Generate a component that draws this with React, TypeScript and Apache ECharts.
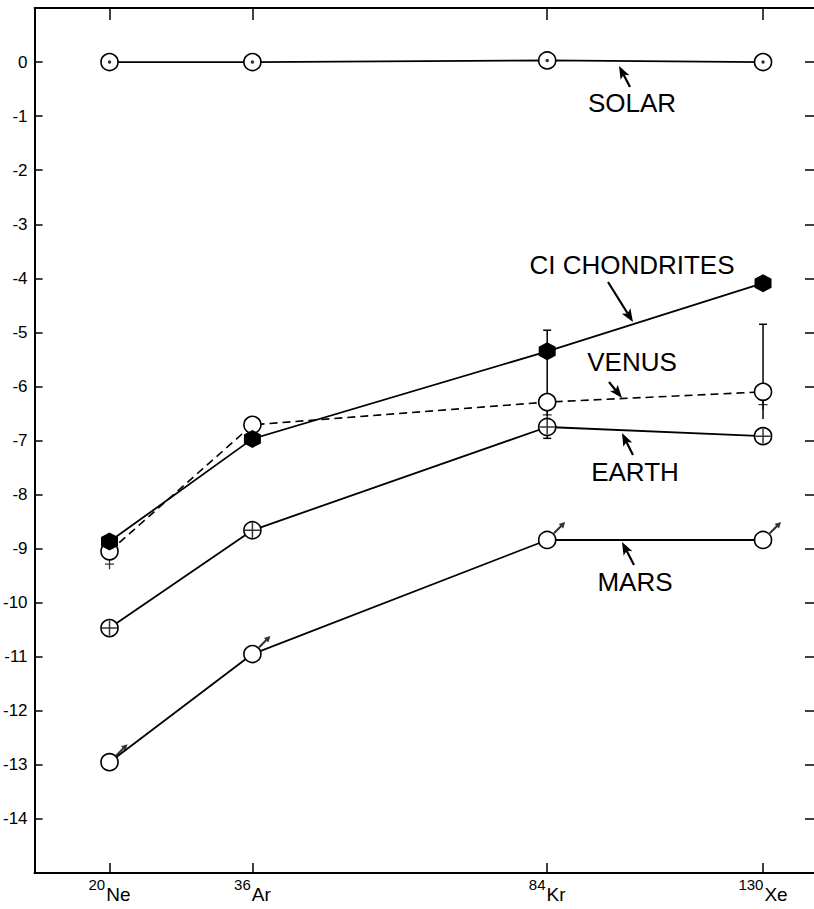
import React, { useEffect, useRef } from "react";
import * as echarts from "echarts";

// ---- data ----
const massNumbers = ["20", "36", "84", "130"];
const elements = ["Ne", "Ar", "Kr", "Xe"];
// horizontal placement of each isotope on the (unlabelled) x scale
const isotopePos = [75, 218, 513, 729];
const yTicks = [0, -1, -2, -3, -4, -5, -6, -7, -8, -9, -10, -11, -12, -13, -14];

const solar = [0, 0, 0.03, 0];
const ciChondrites = [-8.87, -6.97, -5.35, -4.09];
const venus = [-9.05, -6.71, -6.29, -6.1];
const earth = [-10.47, -8.66, -6.75, -6.92];
const mars = [-12.95, -10.95, -8.84, -8.84];

// error bars (end values), null = none
const venusUpper = [null, null, -4.96, -4.85];
const venusLower = [null, null, -6.55, -6.6];
const earthLower = [null, null, -6.96, null];

const labelTexts = ["SOLAR", "CI CHONDRITES", "VENUS", "EARTH", "MARS"];

const FONT = "'Liberation Sans', Arial, Helvetica, sans-serif";

const pts = (vals: number[]) => isotopePos.map((x, i) => [x, vals[i]]);

const CROSS = "path://M7.2,0h1.6v16h-1.6z M0,7.2h16v1.6h-16z";
const VCROSS = "path://M4.3,0h1.4v11h-1.4z M0,4.5h10v1.4h-10z";
const HEX = "path://M5,0 L10,2.9 L10,8.7 L5,11.6 L0,8.7 L0,2.9 Z";
const ARROW = "path://M0,10.5 L7,3.5 L5.5,2 L12,0 L10,6.5 L8.5,5 L1.5,12 Z";

function errorSeries(ends: (number | null)[], base: number[], cap: boolean, dashed: boolean) {
  const data: number[][] = [];
  ends.forEach((e, i) => {
    if (e !== null) data.push([isotopePos[i], base[i], e]);
  });
  return {
    type: "custom",
    xAxisIndex: 0,
    yAxisIndex: 0,
    z: 1,
    silent: true,
    data,
    renderItem: (params: any, api: any) => {
      const x = api.value(0);
      const p0 = api.coord([x, api.value(1)]);
      const p1 = api.coord([x, api.value(2)]);
      const style = { stroke: "#000", lineWidth: 1.5, lineDash: dashed ? [5, 4] : null };
      const children: any[] = [
        { type: "line", shape: { x1: p0[0], y1: p0[1], x2: p1[0], y2: p1[1] }, style },
      ];
      if (cap) {
        children.push({
          type: "line",
          shape: { x1: p1[0] - 4, y1: p1[1], x2: p1[0] + 4, y2: p1[1] },
          style: { stroke: "#000", lineWidth: 1.5 },
        });
      }
      return { type: "group", children };
    },
  };
}

function arrow(x1: number, y1: number, x2: number, y2: number) {
  const dx = x2 - x1;
  const dy = y2 - y1;
  const len = Math.sqrt(dx * dx + dy * dy);
  const ux = dx / len;
  const uy = dy / len;
  const hl = 13;
  const hw = 5;
  const bx = x2 - ux * hl;
  const by = y2 - uy * hl;
  return [
    {
      type: "line",
      shape: { x1, y1, x2: bx + ux * 3, y2: by + uy * 3 },
      style: { stroke: "#000", lineWidth: 2.2 },
      z: 10,
    },
    {
      type: "polygon",
      shape: {
        points: [
          [x2, y2],
          [bx - uy * hw, by + ux * hw],
          [bx + ux * 3, by + uy * 3],
          [bx + uy * hw, by - ux * hw],
        ],
      },
      style: { fill: "#000" },
      z: 10,
    },
  ];
}

export default function App() {
  const ref = useRef<HTMLDivElement>(null);

  useEffect(() => {
    if (!ref.current) return;
    const chart = echarts.init(ref.current, null, { renderer: "svg" });

    const blackLine = { color: "#000", width: 2 };
    const openItem = { color: "#fff", borderColor: "#000", borderWidth: 1.6 };

    const labelPos = [
      [632, 103],
      [632, 265],
      [632, 362],
      [635, 472],
      [635, 582],
    ];

    const option: any = {
      animation: false,
      backgroundColor: "#fff",
      grid: { left: 34, right: 0, top: 8, bottom: 36 },
      xAxis: [
        {
          type: "value",
          position: "bottom",
          min: 0,
          max: 780,
          splitLine: { show: false },
          axisLine: { show: true, onZero: false, lineStyle: blackLine },
          axisTick: {
            show: true,
            inside: true,
            length: 10,
            customValues: isotopePos,
            lineStyle: { color: "#000", width: 1.5 },
          },
          axisLabel: {
            show: true,
            customValues: isotopePos,
            margin: 4,
            formatter: (v: number) => {
              const i = isotopePos.indexOf(v);
              if (i < 0) return "";
              return `{s|${massNumbers[i]}}{e|${elements[i]}}`;
            },
            rich: {
              s: { fontSize: 15, fontFamily: FONT, color: "#000", padding: [0, 1, 12, 0] },
              e: { fontSize: 19, fontFamily: FONT, color: "#000", padding: [8, 0, 0, 0] },
            },
          },
        },
        {
          type: "value",
          position: "top",
          min: 0,
          max: 780,
          splitLine: { show: false },
          axisLine: { show: true, onZero: false, lineStyle: blackLine },
          axisTick: {
            show: true,
            inside: true,
            length: 12,
            customValues: isotopePos,
            lineStyle: { color: "#000", width: 1.5 },
          },
          axisLabel: { show: false },
        },
      ],
      yAxis: [
        {
          type: "value",
          position: "left",
          min: -15,
          max: 1,
          interval: 1,
          splitLine: { show: false },
          axisLine: { show: true, onZero: false, lineStyle: blackLine },
          axisTick: {
            show: true,
            inside: true,
            length: 8,
            customValues: yTicks,
            lineStyle: { color: "#000", width: 1.5 },
          },
          axisLabel: {
            customValues: yTicks,
            formatter: (v: number) => String(v),
            fontSize: 17,
            fontFamily: FONT,
            color: "#000",
            margin: 7,
          },
        },
        {
          type: "value",
          position: "right",
          min: -15,
          max: 1,
          interval: 1,
          splitLine: { show: false },
          axisLine: { show: false, onZero: false },
          axisTick: {
            show: true,
            inside: true,
            length: 9,
            customValues: yTicks,
            lineStyle: { color: "#000", width: 1.5 },
          },
          axisLabel: { show: false },
        },
      ],
      series: [
        errorSeries(venusUpper, venus, true, false),
        errorSeries(venusLower, venus, false, false),
        errorSeries(earthLower, earth, true, false),
        // SOLAR
        {
          name: "SOLAR",
          type: "line",
          data: pts(solar),
          symbol: "circle",
          symbolSize: 17,
          lineStyle: { color: "#000", width: 1.8 },
          itemStyle: openItem,
          z: 3,
        },
        {
          type: "scatter",
          data: pts(solar),
          symbol: "circle",
          symbolSize: 3.5,
          itemStyle: { color: "#000" },
          z: 6,
          silent: true,
        },
        // EARTH
        {
          name: "EARTH",
          type: "line",
          data: pts(earth),
          symbol: "circle",
          symbolSize: 17,
          lineStyle: { color: "#000", width: 1.8 },
          itemStyle: openItem,
          z: 3,
        },
        {
          type: "scatter",
          data: pts(earth),
          symbol: CROSS,
          symbolSize: [15, 15],
          itemStyle: { color: "#000" },
          z: 6,
          silent: true,
        },
        // MARS
        {
          name: "MARS",
          type: "line",
          data: pts(mars),
          symbol: "circle",
          symbolSize: 17,
          lineStyle: { color: "#000", width: 1.8 },
          itemStyle: openItem,
          z: 3,
        },
        {
          type: "scatter",
          data: pts(mars),
          symbol: ARROW,
          symbolSize: [12, 12],
          symbolOffset: [12, -12],
          itemStyle: { color: "#000" },
          z: 6,
          silent: true,
        },
        // VENUS
        {
          name: "VENUS",
          type: "line",
          data: pts(venus),
          symbol: "circle",
          symbolSize: 17,
          lineStyle: { color: "#000", width: 1.6, type: [8, 5] },
          itemStyle: openItem,
          z: 3,
        },
        {
          type: "scatter",
          data: pts(venus),
          symbol: VCROSS,
          symbolSize: [9, 10],
          symbolOffset: [0, 13],
          itemStyle: { color: "#000" },
          z: 4,
          silent: true,
        },
        // CI CHONDRITES
        {
          name: "CI CHONDRITES",
          type: "line",
          data: pts(ciChondrites),
          symbol: HEX,
          symbolSize: [17, 18],
          lineStyle: { color: "#000", width: 1.8 },
          itemStyle: { color: "#000" },
          z: 5,
        },
      ],
      graphic: [
        ...labelTexts.map((t, i) => ({
          type: "text",
          x: labelPos[i][0],
          y: labelPos[i][1],
          z: 10,
          style: {
            text: t,
            fill: "#000",
            font: `26px ${FONT}`,
            textAlign: "center",
            textVerticalAlign: "middle",
          },
        })),
        ...arrow(630, 87, 619, 66),
        ...arrow(608, 282, 633, 322),
        ...arrow(609, 382, 622, 398),
        ...arrow(633, 455, 622, 433),
        ...arrow(634, 565, 622, 542),
      ],
    };

    chart.setOption(option);
    return () => chart.dispose();
  }, []);

  return (
    <div
      ref={ref}
      style={{ position: "fixed", left: 0, top: 0, width: 814, height: 909, background: "#fff" }}
    />
  );
}
